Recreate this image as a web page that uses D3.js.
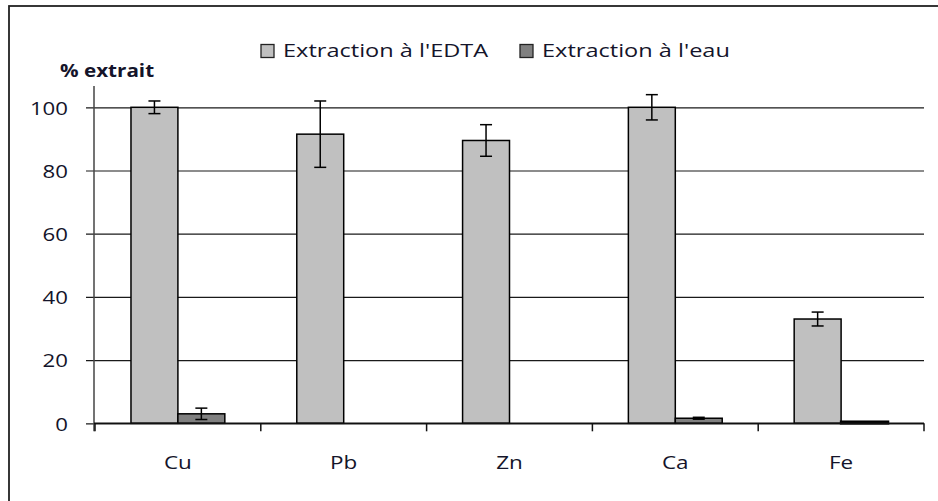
<!DOCTYPE html>
<html><head><meta charset="utf-8">
<script src="https://cdn.jsdelivr.net/npm/d3@7"></script>
<style>body{margin:0;background:#fff}svg{display:block}text{font-family:"Open Sans",sans-serif;fill:#14142a}</style>
</head><body>
<script>
const categories = ["Cu","Pb","Zn","Ca","Fe"];
const seriesNames = ["Extraction à l'EDTA","Extraction à l'eau"];
const edta = [100, 91.5, 89.5, 100, 33];
const edtaErr = [2, 10.5, 5, 4, 2.2];
const eau = [3, 0, 0, 1.6, 0.5];
const eauErr = [1.8, 0, 0, 0.3, 0];
const yTicks = [0,20,40,60,80,100];
const colors = ["#c0c0c0","#808080"];

const W=938,H=501;
const svg=d3.select("body").append("svg").attr("width",W).attr("height",H);
svg.append("rect").attr("x",9).attr("y",6).attr("width",W).attr("height",H)
  .attr("fill","none").attr("stroke","#222").attr("stroke-width",1.8);

const x0=95,x1=924,yTop=107.3,yBot=423.3;
const x=d3.scaleBand().domain(categories).range([x0,x1]).paddingInner(0.434).paddingOuter(0.217);
const xs=d3.scaleBand().domain([0,1]).range([0,x.bandwidth()]);
const y=d3.scaleLinear().domain([0,100]).range([yBot,yTop]);

function stretch(sel,s){
  sel.each(function(){
    const t=d3.select(this);
    const tx=+t.attr("x")||0, ty=+t.attr("y")||0;
    t.attr("transform",`translate(${tx},${ty}) scale(${s},1) translate(${-tx},${-ty})`);
  });
}

// gridlines + y ticks
const yAxis=d3.axisLeft(y).tickValues(yTicks).tickSize(-(x1-x0)).tickPadding(27).tickFormat(d3.format("d"));
const gy=svg.append("g").attr("transform",`translate(${x0},0)`).call(yAxis);
gy.select(".domain").remove();
gy.selectAll(".tick line").attr("stroke","#1a1a1a").attr("stroke-width",1.2).attr("x2",-9).attr("x1",x1-x0);
gy.selectAll(".tick text").attr("font-size",19).style("fill","#14142a").attr("dy","0.36em");
stretch(gy.selectAll(".tick text"),1.17);
// y axis line
svg.append("line").attr("x1",x0-1).attr("x2",x0-1).attr("y1",86).attr("y2",yBot+8).attr("stroke","#444").attr("stroke-width",1.5);

// bars
const series=[{v:edta,e:edtaErr},{v:eau,e:eauErr}];
series.forEach((s,si)=>{
  const g=svg.append("g");
  g.selectAll("rect").data(categories).join("rect")
    .attr("x",c=>x(c)+xs(si)).attr("width",xs.bandwidth())
    .attr("y",(c,i)=>y(s.v[i])).attr("height",(c,i)=>y(0)-y(s.v[i]))
    .attr("fill",colors[si]).attr("stroke","#000")
    .attr("stroke-width",(c,i)=>s.v[i]<1?2.5:1.5);
});

// x axis
svg.append("line").attr("x1",x0-1).attr("x2",x1).attr("y1",yBot).attr("y2",yBot).attr("stroke","#111").attr("stroke-width",1.5);
const bounds=categories.map(c=>x(c)-x.step()*x.paddingInner()/2).concat([x1]);
bounds[0]=x0;
svg.append("g").selectAll("line").data(bounds).join("line")
  .attr("x1",d=>d).attr("x2",d=>d).attr("y1",yBot).attr("y2",yBot+8).attr("stroke","#111").attr("stroke-width",1.5);
const xl=svg.append("g").selectAll("text").data(categories).join("text")
  .attr("x",c=>x(c)+x.bandwidth()/2).attr("y",469).attr("text-anchor","middle").attr("font-size",19).text(c=>c);
stretch(xl,1.18);

// error bars
series.forEach((s,si)=>{
  const g=svg.append("g").attr("stroke","#000").attr("stroke-width",1.5);
  categories.forEach((c,i)=>{
    if(!s.e[i]) return;
    const cx=x(c)+xs(si)+xs.bandwidth()/2;
    const hi=y(s.v[i]+s.e[i]),lo=y(Math.max(0,s.v[i]-s.e[i]));
    g.append("line").attr("x1",cx).attr("x2",cx).attr("y1",hi).attr("y2",lo);
    g.append("line").attr("x1",cx-6).attr("x2",cx+6).attr("y1",hi).attr("y2",hi);
    g.append("line").attr("x1",cx-6).attr("x2",cx+6).attr("y1",lo).attr("y2",lo);
  });
});

// y title
const yt=svg.append("text").attr("x",60).attr("y",77).attr("font-size",17.5).attr("font-weight","bold").text("% extrait");
stretch(yt,1.18);

// legend
const legX=[261,520];
seriesNames.forEach((n,i)=>{
  svg.append("rect").attr("x",legX[i]).attr("y",44.5).attr("width",13).attr("height",13)
    .attr("fill",colors[i]).attr("stroke","#222").attr("stroke-width",1.3);
  const t=svg.append("text").attr("x",legX[i]+22).attr("y",57.5).attr("font-size",19).text(n);
  stretch(t,1.24);
});
</script>
</body></html>
